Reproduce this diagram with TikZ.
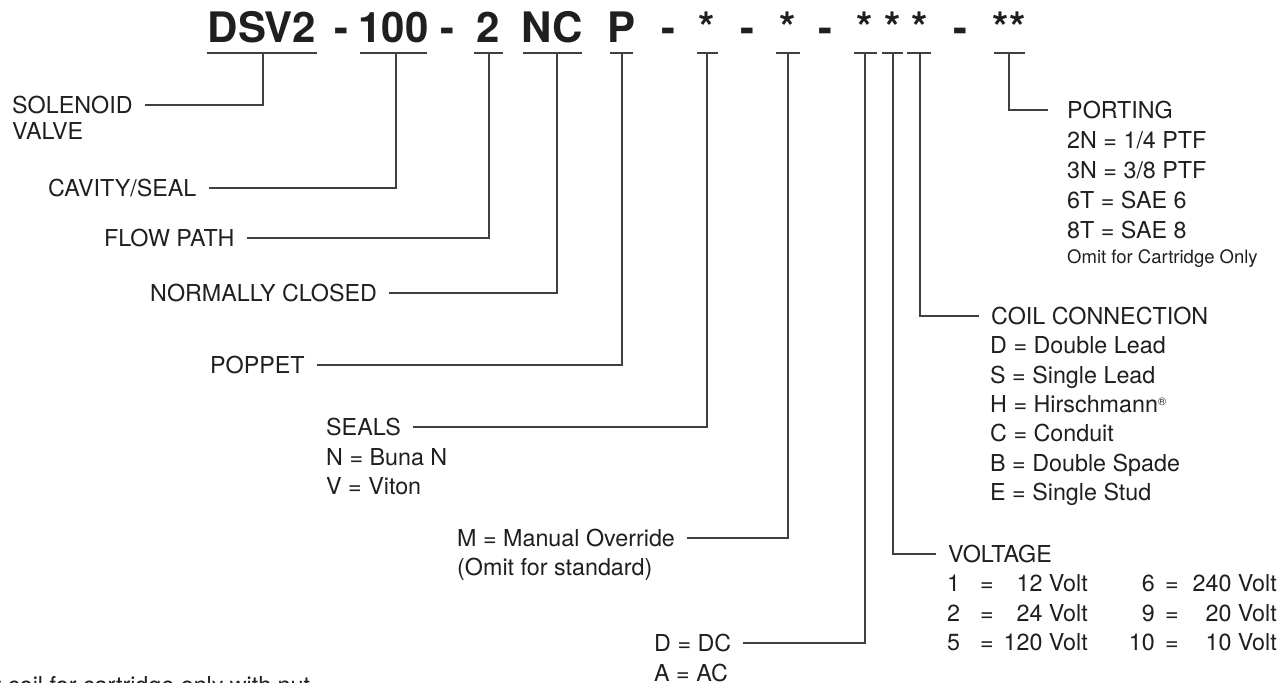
\documentclass[tikz,border=0pt]{standalone}
\usepackage{fontspec}
\setmainfont{TeX Gyre Heros}
\begin{document}
\begin{tikzpicture}[x=1pt,y=-1pt,
  code/.style={font=\fontsize{42}{42}\selectfont\bfseries, anchor=base, inner sep=0pt, text=black!88},
  lbl/.style={font=\fontsize{23.3}{28}\selectfont, anchor=west, inner xsep=12pt, inner ysep=0pt,
    text height=16.7pt, text depth=0pt, text=black!88},
  txt/.style={lbl, inner xsep=0pt},
  small/.style={txt, font=\fontsize{18.5}{22}\selectfont, text height=13.2pt},
  lead/.style={line width=1.1pt, draw=black!75}]
\useasboundingbox (0,0) rectangle (1281,682);

% model code
\node[code] (dsv) at (262,43) {DSV2};
\node[code] (h1) at (341,43) {-};
\node[code] (cav100) at (393.5,43) {100};
\node[code] (h2) at (447,43) {-};
\node[code] (path2) at (488.5,43) {2};
\node[code] (ncl) at (552.5,43) {NC};
\node[code] (pp) at (621,43) {P};
\node[code] (h3) at (668,43) {-};
\node[code] (s1) at (707,43) {*};
\node[code] (h4) at (747,43) {-};
\node[code] (s2) at (788,43) {*};
\node[code] (h5) at (825,43) {-};
\node[code] (s3) at (865,43) {*};
\node[code] (s4) at (893,43) {*};
\node[code] (s5) at (920,43) {*};
\node[code] (h6) at (960,43) {-};
\node[code] (s6) at (1009,43) {**};

\foreach \a/\b in {207/317, 360/427, 474/503, 523/582, 610/633, 697/718,
                   776/800, 854/877, 882/903, 907/931, 994/1025}
  \draw[lead] (\a,53) -- (\b,53);

\coordinate (tdsv) at (263,53);
\coordinate (t100) at (396,53);
\coordinate (tflow) at (489,53);
\coordinate (tnc) at (557,53);
\coordinate (tp) at (622,53);
\coordinate (tseal) at (707,53);
\coordinate (tman) at (788,53);
\coordinate (tcur) at (865,53);
\coordinate (tvolt) at (893,53);
\coordinate (tcoil) at (920,53);
\coordinate (tport) at (1009,53);

% left side
\node[lbl] (sol) at (0,105) {SOLENOID};
\node[txt] (valve) at (12,131) {VALVE};
\node[lbl] (cav) at (36,188) {CAVITY/SEAL};
\node[lbl] (flow) at (92,238) {FLOW PATH};
\node[lbl] (nc) at (138,293) {NORMALLY CLOSED};
\node[lbl] (pop) at (198,365) {POPPET};
\node[lbl] (seals) at (314,427) {SEALS};
\node[txt] (buna) at (326,457) {N = Buna N};
\node[txt] (viton) at (326,486) {V = Viton};
\node[lbl] (man) at (445,538) {M = Manual Override};
\node[txt] (std) at (457,567) {(Omit for standard)};
\node[lbl] (dc) at (642,643) {D = DC};
\node[txt] (ac) at (654,673) {A = AC};
\node[txt, anchor=base west] (note) at (-5,693) {t coil for cartridge only with nut};

% right side
\node[lbl, inner xsep=19pt] (port) at (1048,110) {PORTING};
\foreach \t [count=\i] in {2N = 1/4 PTF, 3N = 3/8 PTF, 6T = SAE 6, 8T = SAE 8}
  \node[txt] (port\i) at (1067,110+30*\i) {\t};
\node[small] (cart) at (1067,257) {Omit for Cartridge Only};

\node[lbl] (coil) at (979,316) {COIL CONNECTION};
\foreach \t [count=\i] in {D = Double Lead, S = Single Lead,
    H = Hirschmann\raisebox{7pt}{\fontsize{11}{11}\selectfont ®}, C = Conduit,
    B = Double Spade, E = Single Stud}
  \node[txt] (coil\i) at (990,316+29.4*\i) {\t};

\node[lbl] (volt) at (936,554) {VOLTAGE};
\foreach \a/\b/\c/\d [count=\i] in {1/12/6/240, 2/24/9/20, 5/120/10/10} {
  \node[txt] (vn\i) at (947,554+29.5*\i) {\a};
  \node[txt, anchor=center] (ve\i) at (987,554+29.5*\i) {=};
  \node[txt, anchor=east] (vv\i) at (1088,554+29.5*\i) {\b\ Volt};
  \node[txt, anchor=east] (wn\i) at (1155,554+29.5*\i) {\c};
  \node[txt, anchor=center] (we\i) at (1172,554+29.5*\i) {=};
  \node[txt, anchor=east] (wv\i) at (1277,554+29.5*\i) {\d\ Volt};
}

% leaders
\draw[lead] (tdsv) |- (sol.east);
\draw[lead] (t100) |- (cav.east);
\draw[lead] (tflow) |- (flow.east);
\draw[lead] (tnc) |- (nc.east);
\draw[lead] (tp) |- (pop.east);
\draw[lead] (tseal) |- (seals.east);
\draw[lead] (tman) |- (man.east);
\draw[lead] (tcur) |- (dc.east);
\draw[lead] (tvolt) |- (volt.west);
\draw[lead] (tcoil) |- (coil.west);
\draw[lead] (tport) |- (port.west);
\end{tikzpicture}
\end{document}
